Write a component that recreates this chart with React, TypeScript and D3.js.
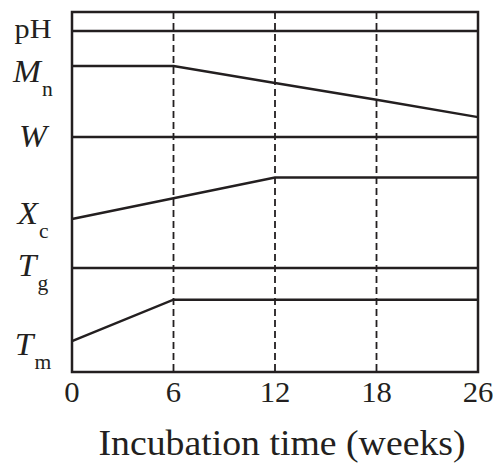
import React from "react";
import * as d3 from "d3";

// x categories (weeks)
const weeks = ["0", "6", "12", "18", "26"];

// qualitative series levels (0-100 arbitrary units), one value per week
const pHValues = [94.7, 94.7, 94.7, 94.7, 94.7];
const MnValues = [85, 85, 80.3, 75.6, 70.8];
const WValues = [65.3, 65.3, 65.3, 65.3, 65.3];
const XcValues = [42.5, 48.25, 54, 54, 54];
const TgValues = [28.9, 28.9, 28.9, 28.9, 28.9];
const TmValues = [8.6, 20.1, 20.1, 20.1, 20.1];
const seriesList = [pHValues, MnValues, WValues, XcValues, TgValues, TmValues];

// row labels
const labelMain = ["pH", "M", "W", "X", "T", "T"];
const labelSub = ["", "n", "", "c", "g", "m"];
const labelItalic = [false, true, true, true, true, true];
const labelLevel = [92.8, 80.6, 62.5, 41.1, 26.7, 4.8];

const dashedWeeks = ["6", "12", "18"];
const xTitle = "Incubation time (weeks)";

const W = 493;
const H = 465;
const left = 72;
const right = 478;
const top = 12;
const bottom = 372;
const ink = "#231f20";
const font = "'Liberation Serif', serif";

export default function App() {
  const x = d3.scalePoint<string>().domain(weeks).range([left, right]);
  const y = d3.scaleLinear().domain([0, 100]).range([bottom, top]);
  const line = d3
    .line<number>()
    .x((_, i) => x(weeks[i]) as number)
    .y((d) => y(d));

  return (
    <svg
      width={W}
      height={H}
      style={{ position: "absolute", left: 0, top: 0, background: "#fff" }}
    >
      {dashedWeeks.map((w) => (
        <line
          key={w}
          x1={x(w)}
          x2={x(w)}
          y1={top}
          y2={bottom}
          stroke={ink}
          strokeWidth={1.8}
          strokeDasharray="7,4"
        />
      ))}
      {seriesList.map((s, i) => (
        <path
          key={i}
          d={line(s) as string}
          fill="none"
          stroke={ink}
          strokeWidth={2.5}
          strokeLinejoin="miter"
        />
      ))}
      <rect
        x={left}
        y={top}
        width={right - left}
        height={bottom - top}
        fill="none"
        stroke={ink}
        strokeWidth={2.5}
      />
      {labelMain.map((m, i) => (
        <text
          key={i}
          transform={`translate(33,${y(labelLevel[i])}) scale(1.08,1)`}
          textAnchor="middle"
          style={{ fontFamily: font }}
          fill={ink}
        >
          <tspan
            fontSize={labelItalic[i] ? 31 : 28}
            fontStyle={labelItalic[i] ? "italic" : "normal"}
          >
            {m}
          </tspan>
          {labelSub[i] ? (
            <tspan fontSize={20} dx={1} dy={14}>
              {labelSub[i]}
            </tspan>
          ) : null}
        </text>
      ))}
      {weeks.map((w) => (
        <text
          key={w}
          transform={`translate(${x(w)},402) scale(1.06,1)`}
          textAnchor="middle"
          style={{ fontFamily: font }}
          fontSize={29}
          fill={ink}
        >
          {w}
        </text>
      ))}
      <text
        transform={`translate(282,455) scale(1.08,1)`}
        textAnchor="middle"
        style={{ fontFamily: font }}
        fontSize={35}
        fill={ink}
      >
        {xTitle}
      </text>
    </svg>
  );
}
